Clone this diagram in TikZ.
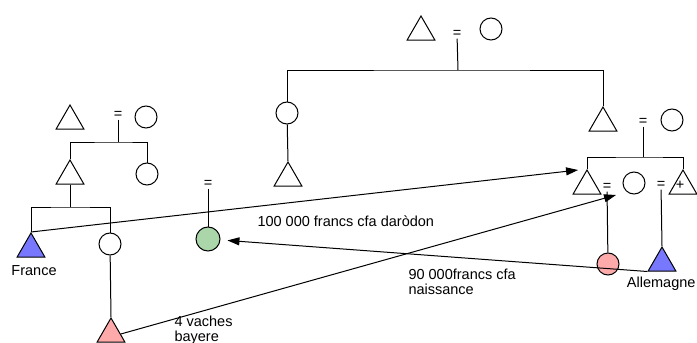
\documentclass[tikz,border=0pt]{standalone}
\usepackage{fontspec}
\setmainfont{Liberation Sans}
\usetikzlibrary{shapes.geometric,arrows.meta}
\definecolor{blueman}{RGB}{120,120,255}
\definecolor{pinkgift}{RGB}{255,170,170}
\definecolor{greenwife}{RGB}{170,214,170}
\tikzstyle{male} = [draw, regular polygon, regular polygon sides=3,
    minimum size=32pt, inner sep=0pt]
\tikzstyle{female} = [draw, circle, minimum size=22pt, inner sep=0pt]
\tikzstyle{marry} = [inner sep=0.5pt]
\tikzstyle{knot} = [coordinate]
\tikzstyle{gift} = [-{Triangle[length=12pt,width=8pt]}]
\tikzstyle{txt} = [inner sep=0pt]

\begin{document}
\begin{tikzpicture}[x=1pt, y=-1pt, line width=1pt,
    font=\fontsize{14.5}{15}\selectfont]
	\useasboundingbox (0,0) rectangle (697,343);

	% Left family
	\node [male] (tA) at (70,121) {};
	\node [marry] (eA) at (118,115) {=};
	\node [female] (cA) at (146,117) {};
	\node [knot] (jA) at (118,142) {};
	\node [male] (tB) at (70,176) {};
	\node [female] (cB) at (147,174) {};
	\node [knot] (jB) at (70,207) {};
	\node [male, fill=blueman] (tFr) at (31,249) {};
	\node [female] (cC) at (110,244) {};
	\node [male, fill=pinkgift] (tVa) at (111,334) {};

	% Green wife
	\node [marry] (eG) at (208,184) {=};
	\node [female, fill=greenwife, minimum size=24pt] (cG) at (208,239) {};

	% Top family
	\node [male] (tTop) at (421,32) {};
	\node [marry] (eTop) at (457,34) {=};
	\node [female] (cTop) at (491,29) {};
	\node [knot] (jTop) at (458,70) {};
	\node [female] (cM) at (287,113) {};
	\node [male] (tM) at (288,178) {};
	\node [male] (tR1) at (603,123) {};
	\node [marry] (eR1) at (643,122) {=};
	\node [female] (cR1) at (672,120) {};

	% Right family
	\node [knot] (jR) at (643,157) {};
	\node [male] (tR2) at (587,186) {};
	\node [marry] (eR2) at (607,187) {=};
	\node [female] (cR2) at (634,183) {};
	\node [marry] (eR3) at (661,185) {=};
	\node [male] (tR3) at (683,186) {};
	\node [txt] (plus) at (680,185) {+};
	\node [female, fill=pinkgift] (cPk) at (608,264) {};
	\node [male, fill=blueman] (tAl) at (662,263) {};
	\node [knot] (pR2) at (616,195) {};

	% Names and gifts
	\node [txt, anchor=base west] (fr) at (11,275) {France};
	\node [txt, anchor=base east] (al) at (696,287) {Allemagne};
	\node [txt, anchor=north west, align=left] (vac) at (174,315) {4 vaches\\bayere};
	\node [txt, anchor=base west] (don) at (257,226) {100 000 francs cfa daròdon};
	\node [txt, anchor=north west, align=left] (nai) at (408,269) {90 000francs cfa\\naissance};

	% Kinship lines
	\draw (eA) -- (jA);
	\draw (tB.north) |- (jA) -| (cB.north);
	\draw (tB.south) -- (jB);
	\draw (tFr.north) |- (jB) -| (cC.north);
	\draw (cC) -- (tVa.north);
	\draw (eG) -- (cG);
	\draw (eTop) -- (jTop);
	\draw (cM.north) |- (jTop) -| (tR1.north);
	\draw (cM) -- (tM.north);
	\draw (eR1) -- (jR);
	\draw (tR2.north) |- (jR) -| (tR3.north);
	\draw (eR2) -- (cPk);
	\draw (eR3) -- (tAl.north);

	% Exchanges
	\draw [gift, shorten >=9pt] (tFr.north) -- (tR2.north);
	\draw [gift] (tVa.east) -- (pR2);
	\draw [gift, shorten >=7pt] (tAl.corner 2) -- (cG);
\end{tikzpicture}
\end{document}
